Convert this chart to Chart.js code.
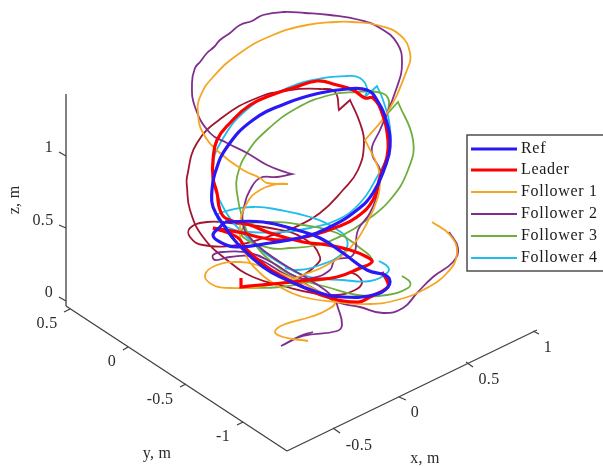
<!DOCTYPE html>
<html>
<head>
<meta charset="utf-8">
<title>Trajectories</title>
<script src="https://cdn.jsdelivr.net/npm/chart.js@4"></script>
<style>
  html, body { margin: 0; padding: 0; background: #fff; overflow: hidden; }
  #wrap { width: 603px; height: 466px; }
  canvas { filter: blur(0.35px); }
</style>
</head>
<body>
<div id="wrap"><canvas id="myChart" width="603" height="466"></canvas></div>
<script>
// curves, in the view plane of the 3d plot [h, v]
// a repeated point is a sharp corner in the curve
const refPath = [[225,222],[263,222],[297,230],[320,238],[343,253],[367,270],[388,277],[388,287],[373,295],[343,297],[317,292],[287,280],[263,267],[237,243],[225,227],[213,207],[212,190],[215,173],[227,147],[253,120],[287,103],[320,93],[347,89],[367,90],[377,100],[387,123],[390,147],[385,167],[373,193],[357,210],[330,227],[303,237],[270,243],[237,247],[220,242],[213,235],[220,227],[225,222]];
const leaderPath = [[241,278],[241,287],[241,287],[260,285],[283,283],[310,280],[337,277],[360,268],[372,262],[367,257],[350,250],[327,245],[303,242],[270,233],[250,225],[227,219],[220,210],[217,193],[213,178],[213,160],[217,140],[230,123],[250,105],[277,93],[293,88],[317,81],[337,85],[353,90],[365,98],[373,98],[382,113],[388,140],[387,157],[380,177],[373,200],[357,217],[337,227],[313,235],[287,240],[263,238],[243,233],[213,228],[213,228],[237,237],[247,250],[267,267],[283,277],[303,287],[327,297],[358,302],[370,297],[387,288],[388,283],[382,272]];
const follower1Path = [[308,341],[283,337],[275,332],[283,325],[310,317],[327,310],[335,302],[320,292],[290,277],[257,265],[240,262],[217,265],[205,275],[213,285],[230,288],[257,287],[283,282],[303,275],[327,265],[350,248],[367,223],[378,197],[380,180],[378,167],[365,140],[365,140],[387,113],[407,70],[410,53],[400,35],[377,25],[353,22],[335,22],[307,25],[273,35],[240,53],[213,77],[200,97],[198,113],[203,133],[220,153],[243,170],[260,178],[267,183],[288,184],[288,184],[277,184],[260,190],[247,203],[240,227],[245,253],[260,273],[280,287],[303,297],[337,302],[370,304],[397,300],[423,290],[447,273],[457,253],[450,235],[432,222]];
const follower2Path = [[313,332],[300,336],[281,346],[281,346],[303,336],[337,331],[342,325],[338,308],[333,297],[310,280],[280,262],[255,243],[243,225],[245,203],[250,190],[260,178],[277,177],[292,174],[292,174],[288,173],[267,165],[247,153],[227,143],[210,133],[195,107],[192,83],[195,68],[200,62],[207,53],[214,47],[220,40],[230,33],[240,25],[252,21],[263,15],[283,12],[305,13],[330,15],[360,20],[380,28],[397,43],[402,63],[397,87],[380,130],[372,147],[373,157],[380,170],[378,190],[370,213],[358,230],[353,255],[335,260],[330,270],[313,278],[297,277],[273,263],[250,253],[223,252],[213,255],[215,260],[230,257],[253,257],[283,273],[313,288],[337,302],[360,307],[383,313],[403,308],[417,293],[433,277],[453,262],[458,248],[449,232]];
const follower3Path = [[245,288],[280,287],[310,282],[337,277],[363,268],[372,260],[360,248],[337,233],[303,225],[267,222],[245,226],[243,237],[270,248],[290,248],[317,245],[343,235],[367,220],[390,200],[408,170],[413,140],[398,102],[398,102],[388,113],[388,113],[388,98],[377,92],[357,92],[330,95],[297,108],[267,130],[247,153],[237,177],[237,193],[242,217],[250,237],[273,263],[303,280],[327,287],[357,295],[387,295],[408,288],[410,282],[402,276]];
const follower4Path = [[379,261],[388,267],[387,273],[370,281],[343,280],[310,277],[283,265],[250,240],[222,205],[213,170],[222,140],[250,107],[283,90],[313,80],[347,76],[360,78],[367,88],[365,97],[365,97],[377,86],[377,86],[383,100],[390,127],[388,153],[377,177],[360,203],[337,220],[310,228],[283,232],[250,232],[227,227],[217,217],[223,212],[253,207],[280,210],[310,217],[333,227],[347,240],[343,253],[320,265],[297,270],[285,268]];
const unlistedPath = [[350,272],[358,276],[362,283],[355,290],[337,295],[313,293],[287,287],[253,277],[227,260],[203,237],[190,210],[187,187],[187,177],[197,143],[223,117],[257,98],[290,90],[320,89],[335,92],[339,110],[339,110],[350,100],[350,100],[360,123],[364,143],[358,170],[343,190],[320,213],[293,228],[267,237],[237,245],[203,245],[190,237],[190,228],[207,222],[230,223],[270,228],[303,238],[320,257],[313,268],[300,277]];

// box axes and their tick marks
const axisLines = [
  [[66,94],[66,306]], [[66,306],[287,451]], [[287,451],[537,330]],
  [[59,152],[66,156]], [[59,225],[66,228]], [[59,297],[66,301]],
  [[64,312],[70,309]], [[123,350],[128,347]], [[180,387],[186,384]], [[237,425],[243,422]],
  [[333,428],[340,433]], [[399,397],[406,400]], [[466,362],[473,367]], [[533,331],[539,334]]
];

const tickLabels = ['1', '0.5', '0', '0.5', '0', '-0.5', '-1', '-0.5', '0', '0.5', '1'];
const tickLabelSpots = [[49,148],[43,221],[49,293],[47,324],[112,362],[160,400],[223,437],[359,446],[415,413],[489,380],[548,348]];
const axisTitles = ['x, m', 'y, m', 'z, m'];
const axisTitleSpots = [[425,459],[157,454],[15,200]];

const seriesNames = ['Ref', 'Leader', 'Follower 1', 'Follower 2', 'Follower 3', 'Follower 4'];
const seriesColors = ['#2a18f5', '#ff0000', '#f5a623', '#7e2f8e', '#6fae3c', '#1fbdeb'];
const seriesWidths = [3.2, 3.2, 1.8, 1.8, 1.8, 1.8];
const seriesPaths = [refPath, leaderPath, follower1Path, follower2Path, follower3Path, follower4Path];

const legendRows = [149, 170, 192, 214, 236, 258];
const fontName = '16px "Liberation Serif"';
const axisColor = '#404040';

function toPoints(path) {
  return path.map(p => ({ x: p[0], y: p[1] }));
}

const datasets = [];
axisLines.forEach(seg => {
  datasets.push({ data: toPoints(seg), borderColor: axisColor, borderWidth: 1.3, pointRadius: 0, showLine: true, tension: 0 });
});
seriesNames.forEach((name, i) => {
  datasets.push({
    label: name,
    data: toPoints(seriesPaths[i]),
    borderColor: seriesColors[i],
    borderWidth: seriesWidths[i],
    pointRadius: 0,
    showLine: true,
    tension: 0.45
  });
});
datasets.push({ data: toPoints(unlistedPath), borderColor: '#a2142f', borderWidth: 1.8, pointRadius: 0, showLine: true, tension: 0.45 });

const annotations = {
  id: 'annotations',
  afterDraw(chart) {
    const ctx = chart.ctx;
    const sx = chart.scales.x;
    const sy = chart.scales.y;
    ctx.save();
    ctx.fillStyle = '#2b2b2b';
    ctx.font = fontName;
    ctx.letterSpacing = '0.3px';
    ctx.textAlign = 'center';
    ctx.textBaseline = 'middle';
    tickLabels.forEach((t, i) => {
      ctx.fillText(t, sx.getPixelForValue(tickLabelSpots[i][0]), sy.getPixelForValue(tickLabelSpots[i][1]));
    });
    axisTitles.forEach((t, i) => {
      const px = sx.getPixelForValue(axisTitleSpots[i][0]);
      const py = sy.getPixelForValue(axisTitleSpots[i][1]);
      ctx.save();
      ctx.translate(px, py);
      if (t[0] === 'z') ctx.rotate(-Math.PI / 2);
      ctx.fillText(t, 0, 0);
      ctx.restore();
    });

    // legend box, open on the right where the window cuts it
    ctx.fillStyle = '#fff';
    ctx.fillRect(467, 135, 136, 136);
    ctx.strokeStyle = axisColor;
    ctx.lineWidth = 1.4;
    ctx.strokeRect(467, 135, 140, 136);
    ctx.textAlign = 'left';
    ctx.fillStyle = '#1a1a1a';
    ctx.letterSpacing = '0.7px';
    seriesNames.forEach((name, i) => {
      ctx.strokeStyle = seriesColors[i];
      ctx.lineWidth = seriesWidths[i];
      ctx.beginPath();
      ctx.moveTo(471, legendRows[i]);
      ctx.lineTo(517, legendRows[i]);
      ctx.stroke();
      ctx.fillText(name, 521, legendRows[i]);
    });
    ctx.restore();
  }
};

new Chart(document.getElementById('myChart').getContext('2d'), {
  type: 'scatter',
  data: { datasets: datasets },
  options: {
    responsive: false,
    animation: false,
    layout: { padding: 0 },
    plugins: { legend: { display: false }, tooltip: { enabled: false } },
    scales: {
      x: { display: false, min: 0, max: 603 },
      y: { display: false, min: 0, max: 466, reverse: true }
    }
  },
  plugins: [annotations]
});
</script>
</body>
</html>
